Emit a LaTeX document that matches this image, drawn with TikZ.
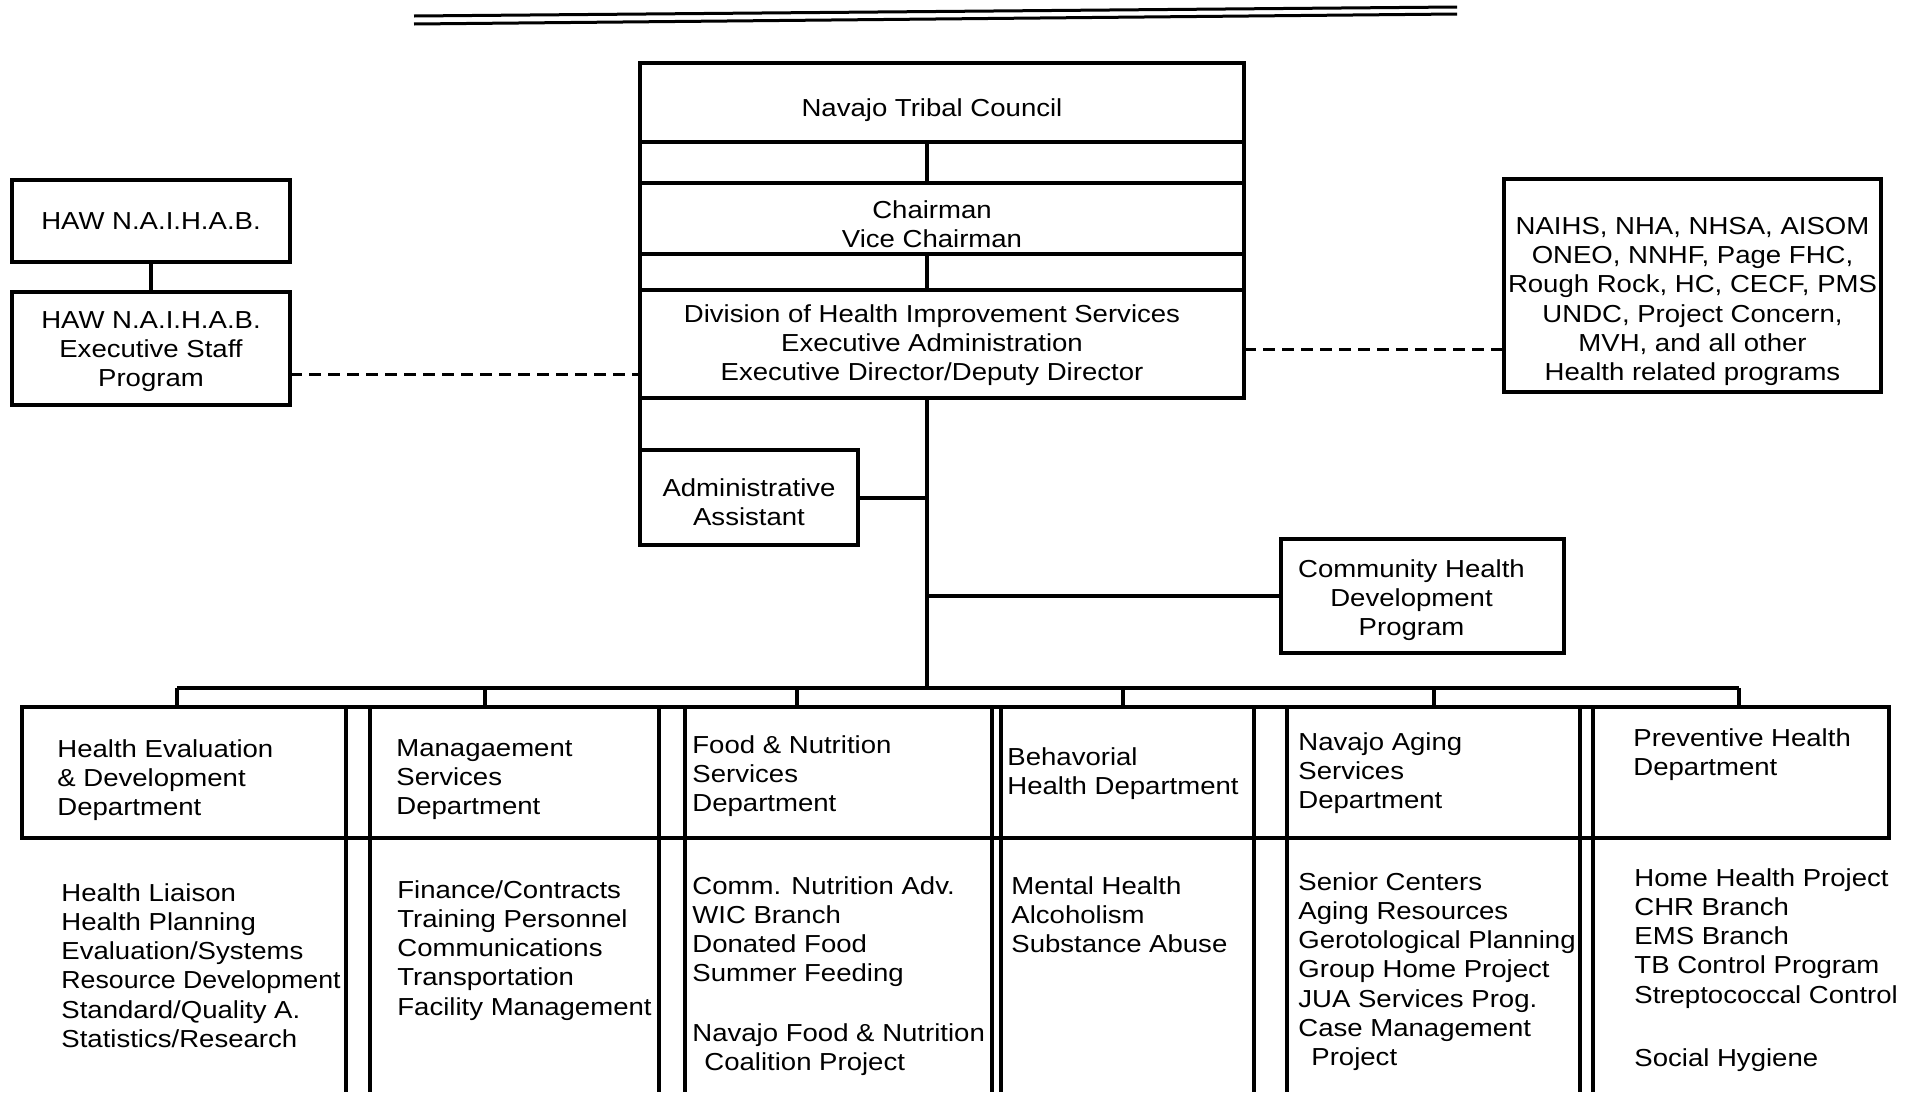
\documentclass[tikz,border=0pt]{standalone}
\usepackage{fontspec}
\setmainfont{Liberation Sans}[FakeStretch=1.12]
\newcommand{\inbox}[3]{\raisebox{-#2}[\height][\depth]{\hspace*{#1}\begin{tabular}{@{}c@{}}#3\end{tabular}\hspace*{-#1}}}
\tikzset{
  box/.style 2 args={draw, line width=2pt, outer sep=0pt, inner sep=1pt,
                     minimum width=#1, minimum height=#2},
  dept/.style={draw, line width=2pt, outer sep=0pt, minimum width=#1, minimum height=65.5pt},
  entry/.style={anchor=north west, align=left, inner sep=0pt},
  wire/.style={line width=2pt},
  dashwire/.style={line width=1.5pt, dash pattern=on 6pt off 3.5pt},
}

\begin{document}
\begin{tikzpicture}[x=0.5pt, y=-0.5pt, every node/.style={font=\fontsize{12.3}{14.6}\selectfont}]
  \useasboundingbox (0,0) rectangle (1909,1098);
  \draw[line width=1.5pt] (414,16) -- (1457,7);
  \draw[line width=1.5pt] (414,24) -- (1457,14);

  \node[box={302pt}{39.5pt}]    (council) at (942,102.5)   {\inbox{-5pt}{3.85pt}{Navajo Tribal Council}};
  \node[box={302pt}{35.5pt}]    (chair)   at (942,218.5)   {\inbox{-5pt}{4.5pt}{Chairman\\Vice Chairman}};
  \node[box={302pt}{54pt}]      (dhis)    at (942,344)     {\inbox{-5pt}{0.8pt}{Division of Health Improvement Services\\Executive Administration\\Executive Director/Deputy Director}};
  \node[box={139pt}{41pt}]      (haw)     at (151,221)     {\inbox{0pt}{1.5pt}{HAW N.A.I.H.A.B.}};
  \node[box={139pt}{56.5pt}]    (staff)   at (151,348.5)   {\inbox{0pt}{1.7pt}{HAW N.A.I.H.A.B.\\Executive Staff\\Program}};
  \node[box={188.5pt}{106.5pt}] (orgs)    at (1692.5,285.5){\inbox{0pt}{8.1pt}{NAIHS, NHA, NHSA, AISOM\\ONEO, NNHF, Page FHC,\\Rough Rock, HC, CECF, PMS\\UNDC, Project Concern,\\MVH, and all other\\Health related programs}};
  \node[box={109pt}{47.5pt}]    (admin)   at (749,497.5)   {\inbox{0pt}{3.9pt}{Administrative\\Assistant}};
  \node[box={141.5pt}{57pt}]    (chd)     at (1422.5,596)  {\inbox{-5.5pt}{2.3pt}{Community Health\\Development\\Program}};

  \coordinate (axis) at (927,688);
  \coordinate (foot) at (0,1092);

  \draw[wire] (council.south west) -- (chair.north west) (council.south east) -- (chair.north east)
              (chair.south west) -- (dhis.north west) (chair.south east) -- (dhis.north east);
  \draw[wire] (council.south -| axis) -- (chair.north -| axis) (chair.south -| axis) -- (dhis.north -| axis);
  \draw[wire] (dhis.south -| axis) -- (axis);
  \draw[wire] (dhis.south west) -- (admin.north west);
  \draw[wire] (admin.east) -- (admin.east -| axis);
  \draw[wire] (chd.west) -- (chd.west -| axis);
  \draw[wire] (haw) -- (staff);
  \draw[dashwire] ([yshift=-12.75pt]staff.east) -- ([yshift=-12.75pt]staff.east -| dhis.west);
  \draw[dashwire] ([yshift=-2.5pt]dhis.east) -- ([yshift=-2.5pt]dhis.east -| orgs.west);

  \foreach \n/\cx/\w in {1/184/162,2/514.5/144.5,3/838.5/153.5,4/1127.5/126.5,5/1433.5/146.5,6/1741/148}
    \node[dept=\w pt] (d\n) at (\cx,772.5) {};
  \foreach \a/\b in {1/2,2/3,3/4,4/5,5/6}
    \draw[wire] (d\a.north east) -- (d\b.north west) (d\a.south east) -- (d\b.south west);
  \foreach \n in {2,...,6}
    \draw[wire] (d\n.south west) -- (d\n.south west |- foot);
  \foreach \n in {1,...,5}
    \draw[wire] (d\n.south east) -- (d\n.south east |- foot);

  \draw[wire] ([xshift=-3.5pt]d1.north |- axis) -- ([xshift=-1pt]d6.north |- axis);
  \foreach \n/\dx in {1/-3.5,2/-14.75,3/-20.75,4/-2.25,5/0,6/-1}
    \draw[wire] ([xshift=\dx pt]d\n.north) -- ([xshift=\dx pt]d\n.north |- axis);

  \node[entry] (t1) at (57,739)   {Health Evaluation\\\& Development\\Department};
  \node[entry] (t2) at (396,739)  {Managaement\\Services\\Department};
  \node[entry] (t3) at (692,735)  {Food \& Nutrition\\Services\\Department};
  \node[entry] (t4) at (1007,747) {Behavorial\\Health Department};
  \node[entry] (t5) at (1298,732) {Navajo Aging\\Services\\Department};
  \node[entry] (t6) at (1633,728) {Preventive Health\\Department};

  \node[entry] (s1) at (61,883)   {Health Liaison\\Health Planning\\Evaluation/Systems\\\scalebox{0.97}[1]{Resource Development}\\Standard/Quality A.\\Statistics/Research};
  \node[entry] (s2) at (397,880)  {Finance/Contracts\\Training Personnel\\Communications\\Transportation\\Facility Management};
  \node[entry] (s3) at (692,876)  {Comm. Nutrition Adv.\\WIC Branch\\Donated Food\\Summer Feeding\\[15pt]Navajo Food \& Nutrition\\\hspace*{6pt}Coalition Project};
  \node[entry] (s4) at (1011,876) {Mental Health\\Alcoholism\\Substance Abuse};
  \node[entry] (s5) at (1298,872) {Senior Centers\\Aging Resources\\Gerotological Planning\\Group Home Project\\JUA Services Prog.\\Case Management\\\hspace*{6.5pt}Project};
  \node[entry] (s6) at (1634,868) {Home Health Project\\CHR Branch\\EMS Branch\\TB Control Program\\Streptococcal Control\\[17pt]Social Hygiene};
\end{tikzpicture}
\end{document}
